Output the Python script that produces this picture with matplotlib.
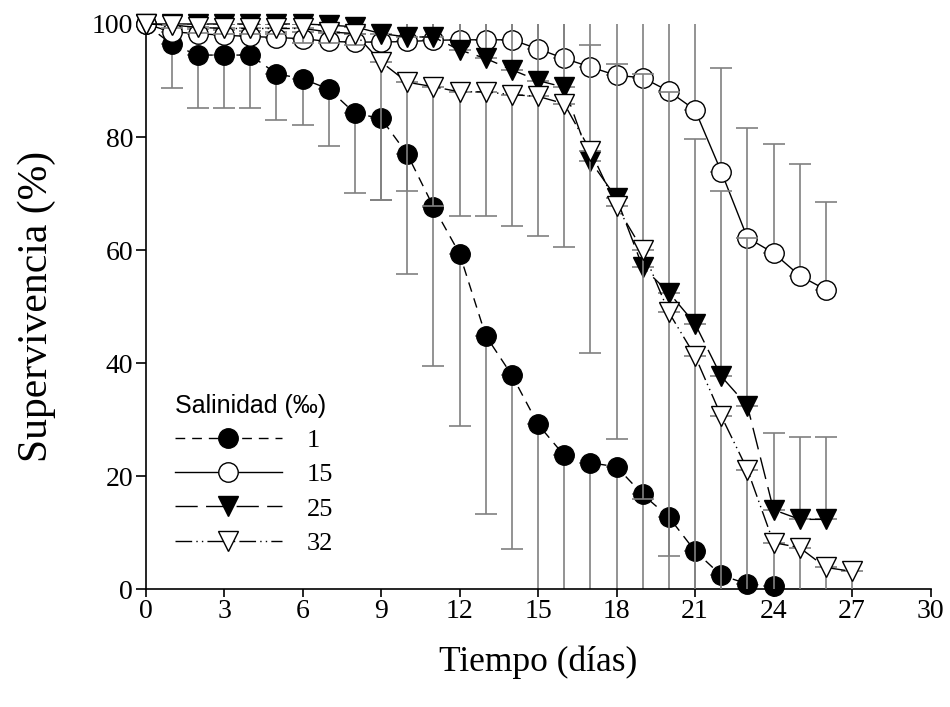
import matplotlib
matplotlib.use('Agg')
import matplotlib.pyplot as plt
from matplotlib.font_manager import FontProperties

# supervivencia (%) por dia para cada salinidad, con su error (un solo lado)
dias_1 = list(range(0, 25))
sup_1 = [100, 96.4, 94.5, 94.5, 94.5, 91.2, 90.3, 88.5, 84.2, 83.3, 77.0, 67.7, 59.4,
         44.9, 37.9, 29.2, 23.7, 22.4, 21.7, 16.8, 12.8, 6.8, 2.5, 1.0, 0.6]
err_1 = [0, 7.8, 9.3, 9.3, 9.3, 8.2, 8.2, 10.1, 14.1, 14.4, 21.2, 28.1, 30.5,
         31.6, 30.7, 32, 30, 28, 27, 22, 17, 10, 5, 3, 2]

dias_15 = list(range(0, 27))
sup_15 = [100, 98.6, 98.3, 98.0, 97.8, 97.6, 97.4, 96.9, 96.8, 96.8, 96.9, 97.1, 97.2,
          97.2, 97.2, 95.6, 93.9, 92.4, 90.9, 90.5, 88.1, 84.8, 73.9, 62.2, 59.5, 55.5, 53.0]
err_15 = [0, 0.5, 0.8, 1, 1, 1, 1.2, 1.5, 1.5, 5, 5, 5, 5,
          5, 5, 7, 8, 10, 11, 12, 14, 16, 18.3, 19.4, 19.3, 19.8, 15.5]

dias_25 = list(range(0, 27))
sup_25 = [100, 100, 100, 100, 100, 100, 100, 99.8, 99.5, 98.3, 97.7, 97.7, 95.4,
          93.9, 91.9, 90.0, 88.8, 75.8, 69.2, 57.0, 52.5, 47.0, 37.7, 32.5, 14.1, 12.4, 12.4]
err_25 = [0, 0, 0, 0, 0, 0, 0, 0, 0, 3, 4, 4, 6,
          8, 10, 12, 13, 20.4, 23.8, 34.2, 35.5, 32.7, 32.7, 29.7, 13.5, 14.6, 14.6]

dias_32 = list(range(0, 28))
sup_32 = [100, 99.8, 99.4, 99.2, 99.2, 99.2, 99.2, 98.6, 98.3, 93.3, 89.7, 88.9, 88.0,
          88.0, 87.5, 87.2, 85.9, 77.6, 67.8, 60.0, 49.0, 41.3, 30.7, 21.2, 8.3, 7.4, 3.9, 3.2]
err_32 = [0, 0.5, 1, 1, 1, 1, 2.6, 2, 2, 24.4, 19.2, 21, 21.9,
          21.9, 23.2, 24.7, 25.3, 35.7, 41.1, 44, 43.1, 45, 35, 25, 12, 10, 6, 5]

serif = 'Liberation Serif'
plt.rcParams['font.family'] = serif

fig = plt.figure(figsize=(9.5, 7.07), dpi=100)
ax = fig.add_axes([0.1532, 0.1662, 0.8263, 0.7999])

gris = '#808080'
series = [
    # (x, y, err, lado, marker, relleno, dashes, etiqueta)
    (dias_1, sup_1, err_1, 'abajo', 'o', 'black', (7, 5), '1'),
    (dias_15, sup_15, err_15, 'arriba', 'o', 'white', None, '15'),
    (dias_25, sup_25, err_25, 'arriba', 'v', 'black', (16, 6), '25'),
    (dias_32, sup_32, err_32, 'abajo', 'v', 'white', (12, 3, 1, 3, 1, 3), '32'),
]

lineas = []
z = 2
for x, y, e, lado, mk, relleno, dashes, etiqueta in series:
    ceros = [0] * len(e)
    if lado == 'abajo':
        yerr = [e, ceros]
    else:
        yerr = [ceros, e]
    ax.errorbar(x, y, yerr=yerr, fmt='none', ecolor=gris, elinewidth=1.2,
                capsize=8, capthick=1.2, zorder=z)
    ln, = ax.plot(x, y, color='black', lw=1.0, marker=mk, markersize=14,
                  markerfacecolor=relleno, markeredgecolor='black',
                  markeredgewidth=1.0, clip_on=False, zorder=z + 1, label=etiqueta)
    if dashes is not None:
        ln.set_dashes(dashes)
    lineas.append(ln)
    z += 2

ax.set_xlim(0, 30)
ax.set_ylim(0, 100)
ax.set_xticks(range(0, 31, 3))
ax.set_yticks(range(0, 101, 20))
ax.spines['top'].set_visible(False)
ax.spines['right'].set_visible(False)
for s in ['left', 'bottom']:
    ax.spines[s].set_linewidth(1.2)
ax.tick_params(direction='out', width=1.2, labelsize=20)
ax.tick_params(axis='x', length=5.5, pad=1)
ax.tick_params(axis='y', length=7, pad=2)

ax.set_xlabel('Tiempo (días)', fontsize=25.5, labelpad=16)
ax.set_ylabel('Supervivencia (%)', fontsize=30, labelpad=26)

leg = ax.legend(handles=lineas, title='Salinidad (‰)', loc='upper left',
                bbox_to_anchor=(0.0375, 0.346), frameon=False, handlelength=4.05,
                handletextpad=0.95, labelspacing=0.41, borderaxespad=0, borderpad=0,
                prop=FontProperties(family=serif, size=19),
                title_fontproperties=FontProperties(family='Liberation Sans', size=18),
                alignment='left')

fig.savefig('out.png', dpi=100)
